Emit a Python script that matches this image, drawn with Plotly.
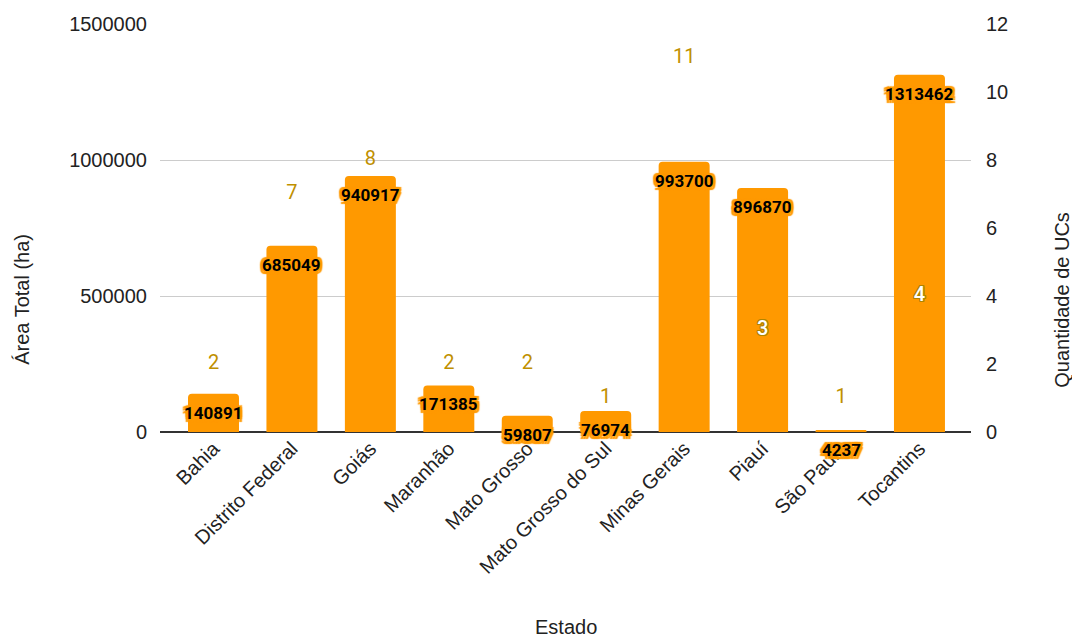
import plotly.graph_objects as go

estados = ["Bahia", "Distrito Federal", "Goiás", "Maranhão", "Mato Grosso",
           "Mato Grosso do Sul", "Minas Gerais", "Piauí", "São Paulo", "Tocantins"]
area_total_ha = [140891, 685049, 940917, 171385, 59807, 76974, 993700, 896870, 4237, 1313462]
quantidade_ucs = [2, 7, 8, 2, 2, 1, 11, 3, 1, 4]

Y1_MAX = 1500000
Y2_MAX = 12

BAR = "#ff9900"
GOLD = "#bf9000"
TICK_FONT = dict(family="Arial, Liberation Sans, sans-serif", size=20, color="#222222")


def halo(color, r, blur):
    offs = [(-r, 0), (r, 0), (0, -r), (0, r), (-r, -r), (r, r), (-r, r), (r, -r)]
    return ", ".join(f"{dx}px {dy}px {blur}px {color}" for dx, dy in offs)


halo_bar = halo(BAR, 2.5, 1)
halo_gold = halo("#b08400", 1.2, 0)

fig = go.Figure()

fig.add_trace(go.Bar(
    x=estados, y=area_total_ha, marker=dict(color=BAR, line=dict(width=0)),
    name="Área Total (ha)", yaxis="y", hoverinfo="x+y",
))

# Count labels: white where the point sits inside its bar, gold elsewhere
inside = [u / Y2_MAX * Y1_MAX < a for u, a in zip(quantidade_ucs, area_total_ha)]
out_x = [e for e, i in zip(estados, inside) if not i]
out_y = [u for u, i in zip(quantidade_ucs, inside) if not i]
in_x = [e for e, i in zip(estados, inside) if i]
in_y = [u for u, i in zip(quantidade_ucs, inside) if i]

fig.add_trace(go.Scatter(
    x=out_x, y=out_y, yaxis="y2", mode="text", text=[str(v) for v in out_y],
    textposition="middle center",
    textfont=dict(family="Roboto", size=20, color=GOLD),
    showlegend=False, hoverinfo="skip",
))
fig.add_trace(go.Scatter(
    x=in_x, y=in_y, yaxis="y2", mode="text", text=[str(v) for v in in_y],
    textposition="middle center",
    textfont=dict(family="Roboto", size=20, color="#ffffff", weight=500, shadow=halo_gold),
    showlegend=False, hoverinfo="skip",
))

# Area value labels near the top of each bar
for e, a in zip(estados, area_total_ha):
    fig.add_annotation(
        x=e, y=a, xref="x", yref="y", text=f"<b>{a}</b>", showarrow=False,
        yshift=-19, yanchor="middle",
        font=dict(family="Roboto", size=17, color="#000000", shadow=halo_bar),
    )

L, R, T, B = 160, 101, 24, 206.7
W, H = 1072, 639
pw, ph = W - L - R, H - T - B


def px_x(x):
    return (x - L) / pw


def px_y(y):
    return (H - B - y) / ph


fig.add_annotation(text="Área Total (ha)", textangle=-90, xref="paper", yref="paper",
                   x=px_x(22), y=px_y(300), showarrow=False,
                   font=TICK_FONT, xanchor="center", yanchor="middle")
fig.add_annotation(text="Quantidade de UCs", textangle=-90, xref="paper", yref="paper",
                   x=px_x(1062), y=px_y(300), showarrow=False,
                   font=TICK_FONT, xanchor="center", yanchor="middle")
fig.add_annotation(text="Estado", xref="paper", yref="paper",
                   x=px_x(566), y=px_y(627), showarrow=False,
                   font=TICK_FONT, xanchor="center", yanchor="middle")

fig.update_layout(
    width=W, height=H,
    margin=dict(l=L, r=R, t=T, b=B, pad=0),
    paper_bgcolor="#ffffff", plot_bgcolor="#ffffff",
    showlegend=False,
    bargap=0.35,
    barcornerradius=4,
    xaxis=dict(
        type="category", range=[-0.682, 9.657], tickangle=-45,
        tickfont=TICK_FONT, showgrid=False, showline=False, ticks="",
        zeroline=False, fixedrange=True,
    ),
    yaxis=dict(
        range=[0, Y1_MAX], tickvals=[0, 500000, 1000000, 1500000],
        ticktext=["0", "500000", "1000000", "1500000"],
        tickfont=TICK_FONT, gridcolor="#cccccc", gridwidth=1,
        zeroline=True, zerolinecolor="#333333", zerolinewidth=1.5,
        showline=False, ticks="", ticklabelstandoff=12,
    ),
    yaxis2=dict(
        range=[0, Y2_MAX], tickvals=[0, 2, 4, 6, 8, 10, 12],
        overlaying="y", side="right", tickfont=TICK_FONT,
        showgrid=False, zeroline=False, showline=False, ticks="",
        ticklabelstandoff=14,
    ),
)

fig.write_html("out.html")
